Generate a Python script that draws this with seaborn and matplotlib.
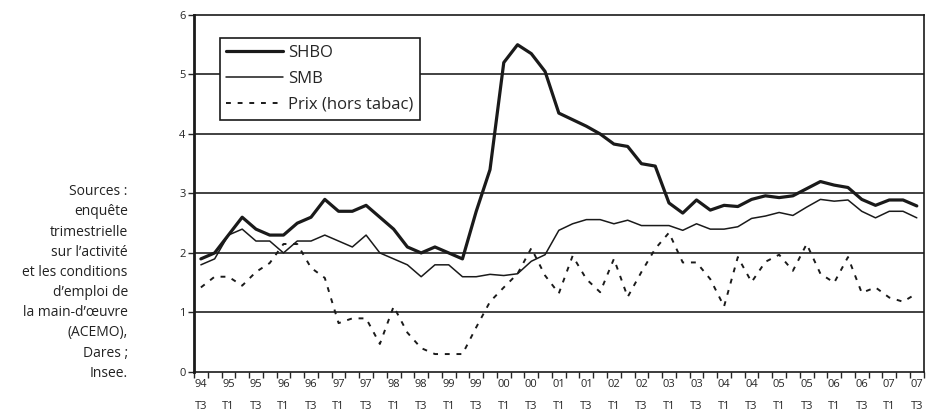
import numpy as np
import pandas as pd
import matplotlib
matplotlib.use("Agg")
import matplotlib.pyplot as plt
import seaborn as sns

# quarterly series, 94 T3 .. 07 T3
years = ["94", "95", "96", "97", "98", "99", "00", "01", "02", "03", "04", "05", "06", "07"]
quarters = ["94 T3", "94 T4"] + [f"{y} T{q}" for y in years[1:-1] for q in (1, 2, 3, 4)] + ["07 T1", "07 T2", "07 T3"]

shbo = [1.9, 2.0, 2.3, 2.6, 2.4, 2.3, 2.3, 2.5, 2.6, 2.9,
        2.7, 2.7, 2.8, 2.6, 2.4, 2.1, 2.0, 2.1, 2.0, 1.9,
        2.7, 3.4, 5.2, 5.5, 5.35, 5.05, 4.35, 4.24, 4.13, 4.0,
        3.83, 3.79, 3.5, 3.46, 2.84, 2.67, 2.89, 2.72, 2.8, 2.78,
        2.9, 2.96, 2.93, 2.96, 3.08, 3.2, 3.14, 3.1, 2.9, 2.8,
        2.89, 2.89, 2.79]
smb = [1.8, 1.9, 2.3, 2.4, 2.2, 2.2, 2.0, 2.2, 2.2, 2.3,
       2.2, 2.1, 2.3, 2.0, 1.9, 1.8, 1.6, 1.8, 1.8, 1.6,
       1.6, 1.64, 1.62, 1.65, 1.86, 1.97, 2.38, 2.49, 2.56, 2.56,
       2.49, 2.55, 2.46, 2.46, 2.46, 2.38, 2.49, 2.4, 2.4, 2.44,
       2.58, 2.62, 2.68, 2.63, 2.77, 2.9, 2.87, 2.89, 2.7, 2.59,
       2.7, 2.7, 2.59]
prix = [1.42, 1.6, 1.6, 1.45, 1.68, 1.83, 2.15, 2.15, 1.75, 1.58,
        0.82, 0.9, 0.9, 0.47, 1.1, 0.66, 0.4, 0.3, 0.3, 0.3,
        0.75, 1.18, 1.42, 1.65, 2.08, 1.62, 1.32, 1.95, 1.56, 1.34,
        1.9, 1.26, 1.68, 2.07, 2.34, 1.84, 1.84, 1.56, 1.1, 1.93,
        1.51, 1.85, 1.97, 1.7, 2.15, 1.65, 1.5, 1.93, 1.33, 1.42,
        1.25, 1.18, 1.32]

source_lines = ["Sources :", "enquête", "trimestrielle", "sur l\u2019activité",
                "et les conditions", "d\u2019emploi de", "la main-d\u2019\u0153uvre",
                "(ACEMO),", "Dares ;", "Insee."]

df = pd.DataFrame({"t": np.arange(len(quarters)), "SHBO": shbo, "SMB": smb,
                   "Prix (hors tabac)": prix})

sns.set_style("white")
plt.rcParams["font.family"] = ["Open Sans", "DejaVu Sans"]

fig = plt.figure(figsize=(9.26, 4.16), dpi=100)
ax = fig.add_axes([0.2095, 0.106, 0.788, 0.858])

for y in range(1, 6):
    ax.axhline(y, color="#333333", lw=1.3, zorder=1)

sns.lineplot(data=df, x="t", y="SHBO", ax=ax, color="#1a1a1a", lw=2.3, label="SHBO", zorder=3)
sns.lineplot(data=df, x="t", y="SMB", ax=ax, color="#1a1a1a", lw=1.1, label="SMB", zorder=3)
sns.lineplot(data=df, x="t", y="Prix (hors tabac)", ax=ax, color="#1a1a1a", lw=1.4,
             linestyle=(0, (2.5, 3.5)), label="Prix (hors tabac)", zorder=3)

ax.set_xlim(-0.5, len(quarters) - 0.5)
ax.set_ylim(0, 6)
ax.set_yticks(range(0, 7))
ax.tick_params(axis="y", direction="out", length=4, width=1, labelsize=8, pad=2, left=True)

lab_pos = np.arange(0, len(quarters), 2)
ax.set_xticks(lab_pos)
ax.set_xticklabels([quarters[i].replace(" ", "\n") for i in lab_pos], fontsize=8, linespacing=2.4)
ax.tick_params(axis="x", length=0, pad=5)
ax.set_xticks(np.arange(-0.5, len(quarters)), minor=True)
ax.tick_params(axis="x", which="minor", direction="out", length=4, width=1, bottom=True)

ax.set_xlabel("")
ax.set_ylabel("")
for side, sp in ax.spines.items():
    sp.set_visible(True)
    sp.set_color("#1a1a1a")
    sp.set_linewidth(1.2)
ax.spines["left"].set_linewidth(2)

leg = ax.legend(loc="upper left", bbox_to_anchor=(0.035, 0.935), fontsize=12, frameon=True,
                fancybox=False, edgecolor="#1a1a1a", handlelength=3.4, handletextpad=0.3,
                borderpad=0.4, labelspacing=0.6, borderaxespad=0)
leg.get_frame().set_linewidth(1.2)
leg.get_frame().set_alpha(1)

fig.text(0.138, 0.557, "\n".join(source_lines), ha="right", va="top", fontsize=10,
         linespacing=1.47, color="#222222")

fig.savefig("out.png", dpi=100)
